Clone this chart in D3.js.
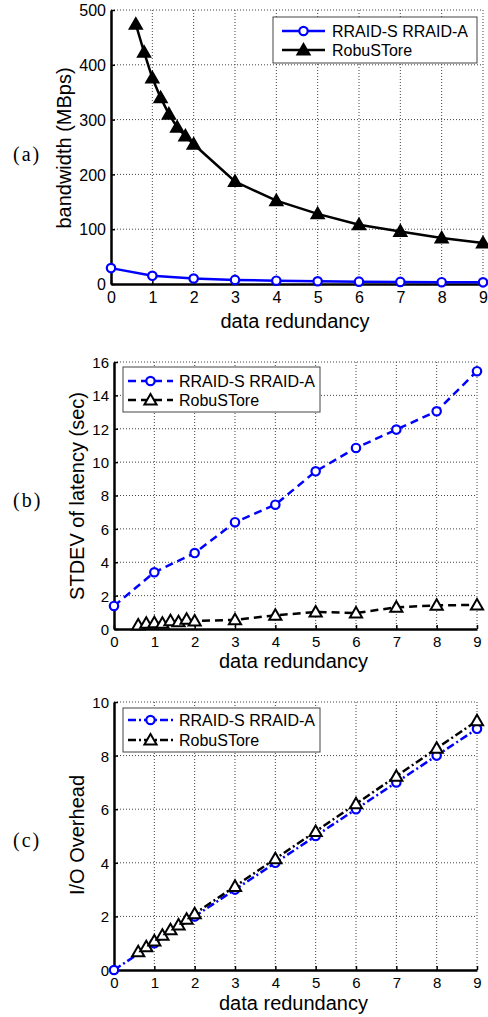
<!DOCTYPE html>
<html><head><meta charset="utf-8">
<script src="https://cdn.jsdelivr.net/npm/d3@7"></script>
<style>body{margin:0;background:#fff}svg{display:block}</style></head>
<body><svg id="c" width="488" height="1017"></svg>
<script>
// ---- data ----
const xTicks = [0,1,2,3,4,5,6,7,8,9];
const xRRAID = [0,1,2,3,4,5,6,7,8,9];
const xRobu = [0.6,0.8,1.0,1.2,1.4,1.6,1.8,2,3,4,5,6,7,8,9];
const bwRRAID = [29,15,10,7.5,6,5,4.3,3.8,3.3,3];
const bwRobu = [474,423,376,340,310,286,270,255,187,152,128,108,96,84,75];
const sdRRAID = [1.38,3.4,4.55,6.4,7.45,9.45,10.85,11.95,13.05,15.45];
const sdRobu = [0.24,0.34,0.38,0.34,0.5,0.44,0.58,0.48,0.55,0.82,1.02,0.96,1.3,1.42,1.44];
const ioRRAID = [0,1,2,3,4,5,6,7,8,9];
const ioRobu = [0.68,0.87,1.08,1.3,1.5,1.68,1.89,2.1,3.12,4.15,5.17,6.2,7.23,8.27,9.3];
const seriesNames = ["RRAID-S RRAID-A","RobuSTore"];
const yTicksA = [0,100,200,300,400,500];
const yTicksB = [0,2,4,6,8,10,12,14,16];
const yTicksC = [0,2,4,6,8,10];
const panelTags = ["(a)","(b)","(c)"];
const yTitles = ["bandwidth (MBps)","STDEV of latency (sec)","I/O Overhead"];
const xTitle = "data redundancy";

const svg = d3.select("#c");
const SANS = "'Liberation Sans', Arial, sans-serif";
const SERIF = "'Liberation Serif', 'Times New Roman', serif";

const panels = [
  {tag:panelTags[0], ytitle:yTitles[0], yt:yTicksA, ymax:500, y1:bwRRAID, y2:bwRobu,
   L:111,R:483,T:10,B:284, dash:null, triFill:"#000", tickFs:16,
   tagY:161, ytX:64, ytY:148, xlY:328, tkY:303, ylX:106,
   leg:{x0:273,x1:477,y0:17,y1:63,l0:282,l1:325,tx:332,r1:31,r2:50}},
  {tag:panelTags[1], ytitle:yTitles[1], yt:yTicksB, ymax:16, y1:sdRRAID, y2:sdRobu,
   L:114,R:477,T:362,B:629, dash:"8,5", triFill:"#fff", tickFs:15,
   tagY:507, ytX:77, ytY:496, xlY:668, tkY:647, ylX:109,
   leg:{x0:123,x1:320,y0:367,y1:412,l0:128,l1:173,tx:179,r1:381,r2:400}},
  {tag:panelTags[2], ytitle:yTitles[2], yt:yTicksC, ymax:10, y1:ioRRAID, y2:ioRobu,
   L:114,R:477,T:702,B:970, dash:"8,3,2,3", triFill:"#fff", tickFs:15,
   tagY:847, ytX:77, ytY:835, xlY:1010, tkY:988, ylX:109,
   leg:{x0:123,x1:320,y0:708,y1:752,l0:128,l1:173,tx:179,r1:720,r2:740}}
];

const tri = d3.symbol().type(d3.symbolTriangle).size(64);

panels.forEach(p => {
  const g = svg.append("g");
  const x = d3.scaleLinear().domain([0,9]).range([p.L,p.R]);
  const y = d3.scaleLinear().domain([0,p.ymax]).range([p.B,p.T]);

  // grid
  g.selectAll(".gx").data(xTicks.slice(1)).enter().append("line")
    .attr("x1",d=>x(d)).attr("x2",d=>x(d)).attr("y1",p.T).attr("y2",p.B)
    .attr("stroke","#444").attr("stroke-width",1).attr("stroke-dasharray","1,2");
  g.selectAll(".gy").data(p.yt.slice(1)).enter().append("line")
    .attr("x1",p.L).attr("x2",p.R).attr("y1",d=>y(d)).attr("y2",d=>y(d))
    .attr("stroke","#444").attr("stroke-width",1).attr("stroke-dasharray","1,2");

  // axes via d3 axis
  const ax = g.append("g").attr("transform",`translate(0,${p.B})`)
    .call(d3.axisBottom(x).tickValues(xTicks).tickSizeInner(-4).tickSizeOuter(0).tickPadding(8));
  const ay = g.append("g").attr("transform",`translate(${p.L},0)`)
    .call(d3.axisLeft(y).tickValues(p.yt).tickSizeInner(-4).tickSizeOuter(0).tickPadding(5));
  [ax,ay].forEach(a=>{
    a.select(".domain").attr("stroke","#000").attr("stroke-width",2.5);
    a.selectAll(".tick line").attr("stroke","#000").attr("stroke-width",1.5);
    a.selectAll(".tick text").attr("font-family",SANS).attr("font-size",p.tickFs).attr("fill","#000");
  });
  ax.selectAll(".tick text").attr("dy",null).attr("y",null).attr("transform",`translate(0,${p.tkY-p.B})`);
  ay.selectAll(".tick text").attr("x",p.ylX-p.L).attr("dy","0.36em");

  // series
  const d1 = xRRAID.map((v,i)=>[v,p.y1[i]]);
  const d2 = xRobu.map((v,i)=>[v,p.y2[i]]);
  const line = d3.line().x(d=>x(d[0])).y(d=>y(d[1]));
  g.append("path").datum(d1).attr("d",line).attr("fill","none")
    .attr("stroke","#0000ff").attr("stroke-width",2.5).attr("stroke-dasharray",p.dash);
  g.append("path").datum(d2).attr("d",line).attr("fill","none")
    .attr("stroke","#000").attr("stroke-width",2.5).attr("stroke-dasharray",p.dash);
  g.selectAll(".m1").data(d1).enter().append("circle")
    .attr("cx",d=>x(d[0])).attr("cy",d=>y(d[1])).attr("r",4.2)
    .attr("fill","#fff").attr("stroke","#0000ff").attr("stroke-width",2.2);
  g.selectAll(".m2").data(d2).enter().append("path")
    .attr("d",tri).attr("transform",d=>`translate(${x(d[0])},${y(d[1])+1})`)
    .attr("fill",p.triFill).attr("stroke","#000").attr("stroke-width",2);

  // legend
  const lg = p.leg;
  g.append("rect").attr("x",lg.x0).attr("y",lg.y0).attr("width",lg.x1-lg.x0).attr("height",lg.y1-lg.y0)
    .attr("fill","#fff").attr("stroke","#444").attr("stroke-width",1);
  const mid = (lg.l0+lg.l1)/2;
  [[lg.r1,"#0000ff"],[lg.r2,"#000"]].forEach(([ry,col],i)=>{
    g.append("line").attr("x1",lg.l0).attr("x2",lg.l1).attr("y1",ry).attr("y2",ry)
      .attr("stroke",col).attr("stroke-width",2.5).attr("stroke-dasharray",p.dash);
    if(i===0) g.append("circle").attr("cx",mid).attr("cy",ry).attr("r",4.2)
      .attr("fill","#fff").attr("stroke",col).attr("stroke-width",2.2);
    else g.append("path").attr("d",tri).attr("transform",`translate(${mid},${ry+1})`)
      .attr("fill",p.triFill).attr("stroke",col).attr("stroke-width",2);
    g.append("text").attr("x",lg.tx).attr("y",ry).attr("dy","0.36em")
      .attr("font-family",SANS).attr("font-size",16).text(seriesNames[i]);
  });

  // titles
  g.append("text").attr("x",(p.L+p.R)/2 - 2).attr("y",p.xlY).attr("text-anchor","middle")
    .attr("font-family",SANS).attr("font-size",20).text(xTitle);
  g.append("text").attr("transform",`translate(${p.ytX},${p.ytY}) rotate(-90)`)
    .attr("text-anchor","middle").attr("dy","0.36em")
    .attr("font-family",SANS).attr("font-size",20).text(p.ytitle);
  g.append("text").attr("x",13).attr("y",p.tagY).attr("font-family",SERIF).attr("font-size",20)
    .attr("letter-spacing","2").text(p.tag);
});
</script></body></html>
